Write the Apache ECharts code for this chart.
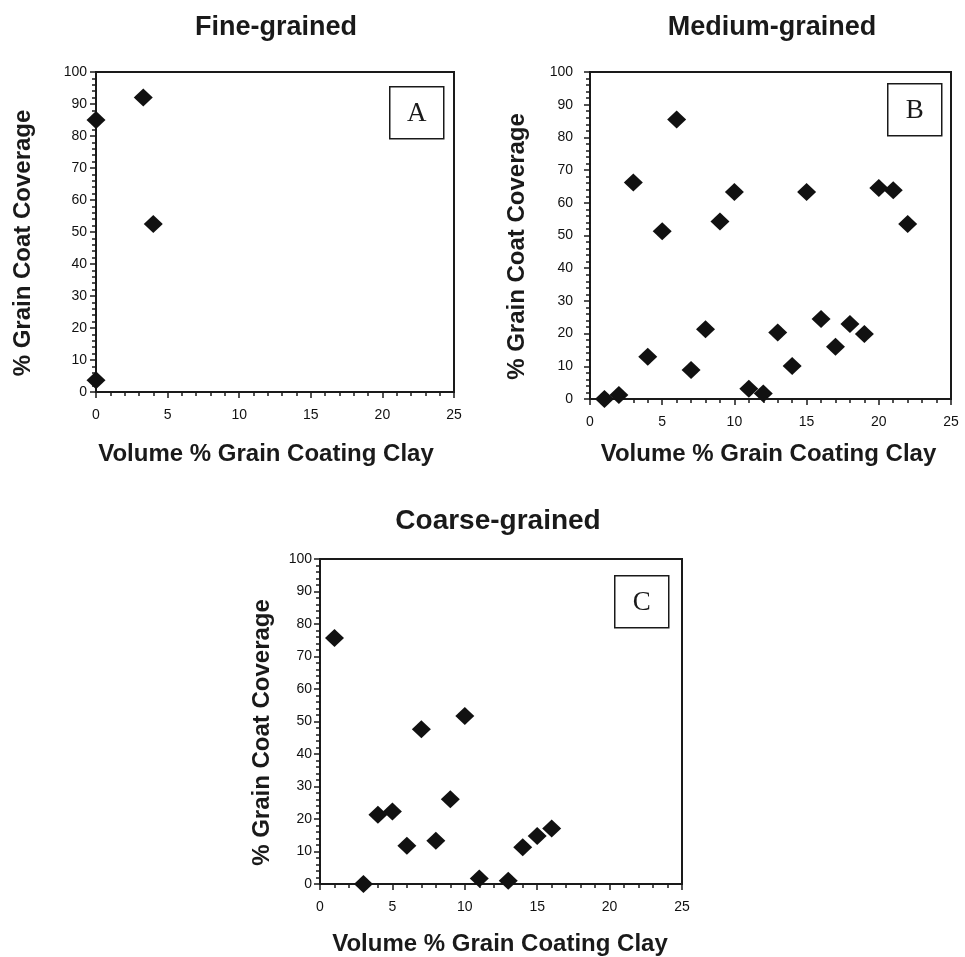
<!DOCTYPE html>
<html>
<head>
<meta charset="utf-8">
<script src="https://cdn.jsdelivr.net/npm/echarts@6/dist/echarts.min.js"></script>
<style>
html,body{margin:0;padding:0;background:#fff;}
#chart{width:965px;height:957px;}
</style>
</head>
<body>
<div id="chart"></div>
<script>
// ---- data ----
const panelTitles = ['Fine-grained', 'Medium-grained', 'Coarse-grained'];
const panelLetters = ['A', 'B', 'C'];
const xAxisTitle = 'Volume % Grain Coating Clay';
const yAxisTitle = '% Grain Coat Coverage';
const xTicks = [0, 5, 10, 15, 20, 25];
const yTicks = [0, 10, 20, 30, 40, 50, 60, 70, 80, 90, 100];

const fineX = [0, 3.3, 4, 0];
const fineY = [85, 92, 52.5, 3.7];

const mediumX = [1, 2, 3, 4, 5, 6, 7, 8, 9, 10, 11, 12, 13, 14, 15, 16, 17, 18, 19, 20, 21, 22];
const mediumY = [0, 1.2, 66.2, 12.9, 51.3, 85.5, 8.9, 21.3, 54.3, 63.3, 3.1, 1.7, 20.3, 10.1, 63.3, 24.5, 16.0, 22.9, 19.9, 64.5, 63.8, 53.5];

const coarseX = [1, 3, 4, 5, 6, 7, 8, 9, 10, 11, 13, 14, 15, 16];
const coarseY = [75.7, 0, 21.3, 22.3, 11.8, 47.6, 13.3, 26.1, 51.7, 1.7, 1.0, 11.3, 14.8, 17.1];

// ---- layout ----
const FONT = "'Liberation Sans', Arial, Helvetica, sans-serif";
const grids = [
  {left: 96, top: 72, width: 358, height: 320},
  {left: 590, top: 72, width: 361, height: 327},
  {left: 320, top: 559, width: 362, height: 326}
];
const titlePos = [
  {left: 271, top: 9, size: 27},
  {left: 767, top: 9, size: 27},
  {left: 493, top: 502, size: 28}
];
const yLabelMargin = [9, 17, 8];
const yNameGap = [61, 61, 46];
const xNameGap = [50, 43, 48];
const xNamePad = [[0, 18, 0, 0], [0, 4, 0, 0], [0, 2, 0, 0]];
const boxes = [
  {x: 389, y: 86},
  {x: 887, y: 83},
  {x: 614, y: 575}
];

const xSeries = [fineX, mediumX, coarseX];
const ySeries = [fineY, mediumY, coarseY];

const option = {
  backgroundColor: '#ffffff',
  animation: false,
  title: panelTitles.map((t, i) => ({
    text: t,
    left: titlePos[i].left,
    top: titlePos[i].top,
    textAlign: 'center',
    textStyle: {fontFamily: FONT, fontWeight: 'bold', fontSize: titlePos[i].size, color: '#1a1a1a'}
  })),
  grid: grids.map(g => Object.assign({
    show: true, borderColor: '#1a1a1a', borderWidth: 2, backgroundColor: 'transparent', containLabel: false
  }, g)),
  xAxis: grids.map((g, i) => ({
    type: 'value', gridIndex: i,
    min: xTicks[0], max: xTicks[xTicks.length - 1], interval: xTicks[1] - xTicks[0],
    name: xAxisTitle, nameLocation: 'middle', nameGap: xNameGap[i],
    nameTextStyle: {fontFamily: FONT, fontWeight: 'bold', fontSize: 24, color: '#1a1a1a', padding: xNamePad[i]},
    axisLine: {show: true, onZero: false, lineStyle: {color: '#1a1a1a', width: 2}},
    axisTick: {show: true, inside: false, length: 6, lineStyle: {color: '#1a1a1a', width: 1.5}},
    minorTick: {show: true, splitNumber: 5, length: 4, lineStyle: {color: '#1a1a1a', width: 1.5}},
    splitLine: {show: false},
    axisLabel: {fontFamily: FONT, fontSize: 14, color: '#111', margin: 16}
  })),
  yAxis: grids.map((g, i) => ({
    type: 'value', gridIndex: i,
    min: yTicks[0], max: yTicks[yTicks.length - 1], interval: yTicks[1] - yTicks[0],
    name: yAxisTitle, nameLocation: 'middle', nameRotate: 90, nameGap: yNameGap[i],
    nameTextStyle: {fontFamily: FONT, fontWeight: 'bold', fontSize: 24, color: '#1a1a1a', padding: [0, 22, 0, 0]},
    axisLine: {show: true, onZero: false, lineStyle: {color: '#1a1a1a', width: 2}},
    axisTick: {show: true, inside: false, length: 6, lineStyle: {color: '#1a1a1a', width: 1.5}},
    minorTick: {show: true, splitNumber: 5, length: 4, lineStyle: {color: '#1a1a1a', width: 1.5}},
    splitLine: {show: false},
    axisLabel: {fontFamily: FONT, fontSize: 14, color: '#111', margin: yLabelMargin[i]}
  })),
  series: xSeries.map((xs, i) => ({
    type: 'scatter', xAxisIndex: i, yAxisIndex: i,
    symbol: 'diamond', symbolSize: [19, 18], clip: false,
    itemStyle: {color: '#111111', opacity: 1},
    emphasis: {disabled: true},
    data: xs.map((x, k) => [x, ySeries[i][k]])
  })),
  graphic: boxes.map((b, i) => ({
    type: 'group', left: b.x, top: b.y,
    children: [
      {type: 'rect', shape: {x: 0, y: 0, width: 54, height: 52}, style: {fill: '#fff', stroke: '#1a1a1a', lineWidth: 1.5}},
      {type: 'text', x: 27, y: 27, style: {text: panelLetters[i], fontFamily: "'Liberation Serif', 'Times New Roman', serif", fontSize: 27, fill: '#1a1a1a', align: 'center', verticalAlign: 'middle'}}
    ]
  }))
};

const chart = echarts.init(document.getElementById('chart'), null, {renderer: 'canvas'});
chart.setOption(option);
</script>
</body>
</html>
